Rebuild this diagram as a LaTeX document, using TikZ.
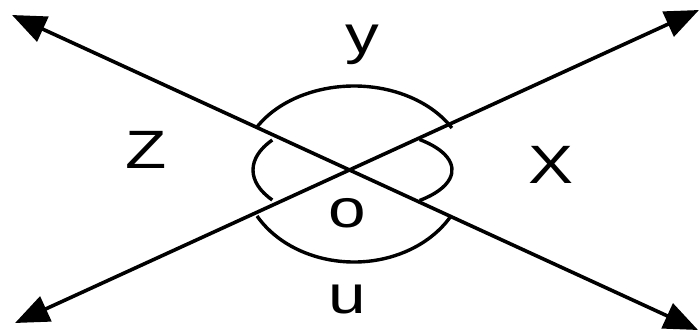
\documentclass[tikz,border=0pt]{standalone}
\usepackage{fontspec}
\setmainfont{Liberation Sans}
\usetikzlibrary{arrows.meta,calc}

\tikzset{
    ray/.style={line width=3.6pt, {Triangle[length=34pt,width=27pt]}-{Triangle[length=34pt,width=27pt]}},
    angarc/.style={line width=3.4pt},
    lbl/.style={font=\fontsize{54}{60}\selectfont, anchor=base, inner sep=0pt, xscale=1.25, transform shape}
}

\begin{document}
\begin{tikzpicture}[x=1pt, y=-1pt]
    \useasboundingbox (0,0) rectangle (700,333);

    \coordinate (O) at (354,170);
    \coordinate (tl) at (12,15);
    \coordinate (br) at (698,330);
    \coordinate (tr) at (699,10);
    \coordinate (bl) at (15,323);

    \draw[ray] (tl) -- (br);
    \draw[ray] (bl) -- (tr);

    % angle arcs round O
    \draw[angarc] ($(O)+(210:113 and 84)$) arc[start angle=210, end angle=330, x radius=113, y radius=84];
    \draw[angarc] ($(O)+(150:112 and 92)$) arc[start angle=150, end angle=30, x radius=112, y radius=92];
    \draw[angarc] ($(O)+(144:101 and 51)$) arc[start angle=144, end angle=216, x radius=101, y radius=51];
    \draw[angarc] ($(O)+(-48:98 and 41)$) arc[start angle=-48, end angle=48, x radius=98, y radius=41];

    \node[lbl] (lblY) at (362,53) {y};
    \node[lbl] (lblZ) at (146,168) {Z};
    \node[lbl] (lblX) at (551,183) {X};
    \node[lbl] (lblO) at (347,227) {o};
    \node[lbl] (lblU) at (347,313) {u};
\end{tikzpicture}
\end{document}
